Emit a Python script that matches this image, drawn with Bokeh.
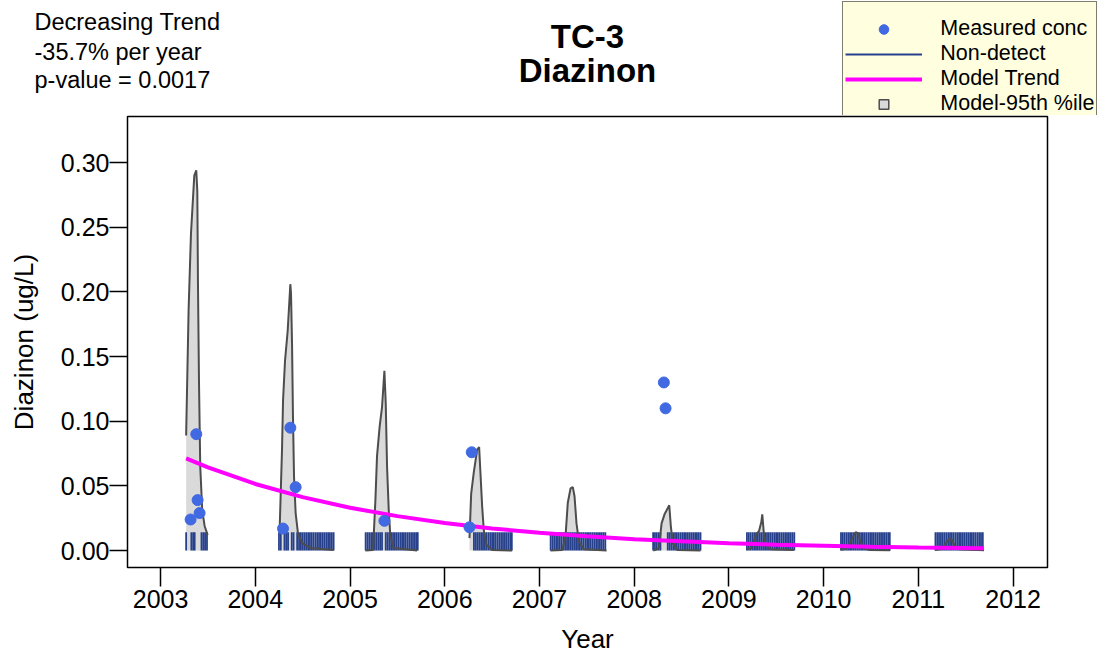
import numpy as np
from bokeh.plotting import figure
from bokeh.layouts import column
from bokeh.models import Range1d, FixedTicker, Label, Legend, LegendItem, ColumnDataSource
from bokeh.embed import file_html
from bokeh.resources import INLINE

FONT = "Liberation Sans"

# ---------------- data ----------------
x_ticks = [2003, 2004, 2005, 2006, 2007, 2008, 2009, 2010, 2011, 2012]
y_ticks = [0.0, 0.05, 0.10, 0.15, 0.20, 0.25, 0.30]
y_tick_labels = ["0.00", "0.05", "0.10", "0.15", "0.20", "0.25", "0.30"]

# measured (detected) concentrations
detect_t = [2003.317, 2003.377, 2003.391, 2003.412, 2004.293, 2004.370, 2004.426,
            2005.363, 2006.261, 2006.285, 2008.313, 2008.331]
detect_c = [0.024, 0.090, 0.039, 0.029, 0.017, 0.095, 0.049,
            0.023, 0.018, 0.076, 0.130, 0.110]

# non-detect sample dates
nd_2003 = [2003.270, 2003.325, 2003.344, 2003.360, 2003.432, 2003.451, 2003.470, 2003.490]
nd_2004 = [2004.250, 2004.269, 2004.308, 2004.327, 2004.346, 2004.385, 2004.404, 2004.442,
           2004.462, 2004.481, 2004.500, 2004.519, 2004.538, 2004.558, 2004.577, 2004.596,
           2004.615, 2004.635, 2004.654, 2004.673, 2004.692, 2004.712, 2004.731, 2004.750,
           2004.769, 2004.788, 2004.808, 2004.827]
nd_2005 = [2005.165, 2005.184, 2005.203, 2005.223, 2005.242, 2005.261, 2005.280, 2005.300,
           2005.319, 2005.338, 2005.377, 2005.396, 2005.415, 2005.434, 2005.454, 2005.473,
           2005.492, 2005.511, 2005.531, 2005.550, 2005.569, 2005.588, 2005.608, 2005.627,
           2005.646, 2005.665, 2005.685, 2005.704, 2005.715]
nd_2006 = [2006.308, 2006.327, 2006.346, 2006.365, 2006.385, 2006.404, 2006.423, 2006.442,
           2006.462, 2006.481, 2006.500, 2006.519, 2006.538, 2006.558, 2006.577, 2006.596,
           2006.615, 2006.635, 2006.654, 2006.673, 2006.692, 2006.708]
nd_2007 = [2007.118, 2007.137, 2007.156, 2007.176, 2007.195, 2007.214, 2007.233, 2007.253,
           2007.272, 2007.291, 2007.310, 2007.330, 2007.349, 2007.368, 2007.387, 2007.407,
           2007.426, 2007.445, 2007.464, 2007.484, 2007.503, 2007.522, 2007.541, 2007.561,
           2007.580, 2007.599, 2007.618, 2007.638, 2007.657, 2007.676, 2007.695]
nd_2008 = [2008.200, 2008.219, 2008.238, 2008.258, 2008.277, 2008.354, 2008.373, 2008.392,
           2008.412, 2008.431, 2008.450, 2008.469, 2008.489, 2008.508, 2008.527, 2008.546,
           2008.566, 2008.585, 2008.604, 2008.623, 2008.643, 2008.662, 2008.681, 2008.700]
nd_2009 = [2009.190, 2009.209, 2009.228, 2009.248, 2009.267, 2009.286, 2009.305, 2009.325,
           2009.344, 2009.363, 2009.382, 2009.402, 2009.421, 2009.440, 2009.459, 2009.479,
           2009.498, 2009.517, 2009.536, 2009.556, 2009.575, 2009.594, 2009.613, 2009.633,
           2009.652, 2009.671, 2009.690]
nd_2010 = [2010.183, 2010.202, 2010.221, 2010.241, 2010.260, 2010.279, 2010.298, 2010.318,
           2010.337, 2010.356, 2010.375, 2010.395, 2010.414, 2010.433, 2010.452, 2010.472,
           2010.491, 2010.510, 2010.529, 2010.549, 2010.568, 2010.587, 2010.606, 2010.626,
           2010.645, 2010.664, 2010.683, 2010.698]
nd_2011 = [2011.180, 2011.199, 2011.218, 2011.238, 2011.257, 2011.276, 2011.295, 2011.315,
           2011.334, 2011.353, 2011.372, 2011.392, 2011.411, 2011.430, 2011.449, 2011.469,
           2011.488, 2011.507, 2011.526, 2011.546, 2011.565, 2011.584, 2011.603, 2011.623,
           2011.642, 2011.661, 2011.680]
nd_limit = 0.0142  # reporting limit drawn for non-detects

# model trend
trend_t = [2003.27, 2003.5, 2004.0, 2004.5, 2005.0, 2005.5, 2006.0, 2006.5, 2007.0,
           2007.5, 2008.0, 2008.5, 2009.0, 2009.5, 2010.0, 2010.5, 2011.0, 2011.69]
trend_c = [0.0713, 0.0643, 0.0515, 0.0413, 0.0331, 0.0266, 0.0213, 0.0171, 0.0137,
           0.0110, 0.0088, 0.0071, 0.0057, 0.0045, 0.0037, 0.0029, 0.0023, 0.0017]

# model 95th percentile, one curve per sampling season
p95_2003_t = [2003.270, 2003.296, 2003.321, 2003.356, 2003.377, 2003.388, 2003.395, 2003.406,
              2003.419, 2003.440, 2003.465, 2003.497]
p95_2003_c = [0.089, 0.186, 0.245, 0.290, 0.294, 0.278, 0.206, 0.129, 0.065, 0.031, 0.019, 0.012]
p95_2004_t = [2004.257, 2004.282, 2004.293, 2004.314, 2004.342, 2004.370, 2004.377, 2004.388,
              2004.398, 2004.409, 2004.426, 2004.451, 2004.494, 2004.581, 2004.827]
p95_2004_c = [0.016, 0.078, 0.116, 0.147, 0.170, 0.206, 0.199, 0.160, 0.103, 0.057, 0.029,
              0.013, 0.006, 0.002, 0.0005]
p95_2005_t = [2005.162, 2005.243, 2005.268, 2005.285, 2005.313, 2005.338, 2005.363, 2005.377,
              2005.391, 2005.409, 2005.426, 2005.461, 2005.708]
p95_2005_c = [0.0, 0.0005, 0.039, 0.073, 0.096, 0.111, 0.139, 0.114, 0.065, 0.031, 0.011,
              0.002, 0.0]
p95_2006_t = [2006.261, 2006.279, 2006.306, 2006.342, 2006.363, 2006.377, 2006.395, 2006.412,
              2006.440, 2006.500, 2006.712]
p95_2006_c = [0.0096, 0.044, 0.060, 0.078, 0.080, 0.060, 0.034, 0.016, 0.0044, 0.0005, 0.0]
p95_2007_t = [2007.116, 2007.240, 2007.275, 2007.299, 2007.328, 2007.352, 2007.370, 2007.391,
              2007.416, 2007.469, 2007.708]
p95_2007_c = [0.0, 0.0005, 0.011, 0.037, 0.048, 0.049, 0.042, 0.021, 0.007, 0.001, 0.0]
p95_2008_t = [2008.201, 2008.260, 2008.289, 2008.320, 2008.370, 2008.387, 2008.408, 2008.455,
              2008.700]
p95_2008_c = [0.0, 0.0018, 0.021, 0.028, 0.035, 0.0185, 0.0057, 0.0005, 0.0]
p95_2009_t = [2009.187, 2009.230, 2009.264, 2009.282, 2009.317, 2009.342, 2009.352, 2009.370,
              2009.387, 2009.440, 2009.686]
p95_2009_c = [0.001, 0.0018, 0.007, 0.012, 0.015, 0.022, 0.028, 0.012, 0.0044, 0.001, 0.0005]
p95_2010_t = [2010.180, 2010.250, 2010.303, 2010.338, 2010.362, 2010.391, 2010.419, 2010.479,
              2010.701]
p95_2010_c = [0.0005, 0.0018, 0.0096, 0.0142, 0.0134, 0.007, 0.0018, 0.0005, 0.0003]
p95_2011_t = [2011.176, 2011.254, 2011.289, 2011.324, 2011.352, 2011.384, 2011.430, 2011.693]
p95_2011_c = [0.0005, 0.0013, 0.0057, 0.009, 0.0083, 0.0039, 0.001, 0.0003]

title_lines = ["TC-3", "Diazinon"]
trend_lines = ["Decreasing Trend", "-35.7% per year", "p-value = 0.0017"]
legend_labels = ["Measured conc", "Non-detect", "Model Trend", "Model-95th %ile"]

# ---------------- styles ----------------
DOT = dict(size=11, fill_color="#4169E1", line_color="#4169E1")
ND = dict(line_color="#27408B", line_width=1.8)
TREND = dict(line_color="#FF00FF", line_width=4)
BAND_FILL = "#dadada"
BAND_LINE = "#4d4d4d"

# ---------------- assemble ----------------
p95_t = [p95_2003_t, p95_2004_t, p95_2005_t, p95_2006_t, p95_2007_t,
         p95_2008_t, p95_2009_t, p95_2010_t, p95_2011_t]
p95_c = [p95_2003_c, p95_2004_c, p95_2005_c, p95_2006_c, p95_2007_c,
         p95_2008_c, p95_2009_c, p95_2010_c, p95_2011_c]
nd_dates = nd_2003 + nd_2004 + nd_2005 + nd_2006 + nd_2007 + nd_2008 + nd_2009 + nd_2010 + nd_2011

fill_xs = [[t[0]] + t + [t[-1]] for t in p95_t]
fill_ys = [[0.0] + c + [0.0] for c in p95_c]

# ---- header strip: titles, trend text and legend ----
TOP_H = 115
top = figure(width=1097, height=TOP_H, x_range=Range1d(0, 1), y_range=Range1d(0, 1),
             x_axis_type=None, y_axis_type=None, output_backend="svg", toolbar_location=None,
             min_border=0, outline_line_color=None, background_fill_color="white",
             border_fill_color="white")
top.grid.visible = False

for txt, yy in zip(title_lines, (79.5, 45.3)):
    top.add_layout(Label(x=587, y=yy, x_units="screen", y_units="screen", text=txt,
                         text_font=FONT, text_font_size="33px", text_font_style="bold",
                         text_color="black", text_align="center", text_baseline="alphabetic"))
for txt, yy in zip(trend_lines, (93.3, 63.3, 35.5)):
    top.add_layout(Label(x=34, y=yy, x_units="screen", y_units="screen", text=txt,
                         text_font=FONT, text_font_size="23.5px", text_color="black",
                         text_align="left", text_baseline="alphabetic"))

nan = [np.nan]
lg_dot = top.scatter(nan, nan, **DOT)
lg_nd = top.line(nan, nan, **ND)
lg_trend = top.line(nan, nan, **TREND)
lg_band = top.scatter(nan, nan, marker="square", size=13, fill_color=BAND_FILL,
                      line_color=BAND_LINE, line_width=1.5)

legend = Legend(items=[LegendItem(label=l, renderers=[r]) for l, r in
                       zip(legend_labels, (lg_dot, lg_nd, lg_trend, lg_band))],
                location=(842.3, -4), orientation="vertical",
                glyph_width=77, glyph_height=24, label_height=24, label_width=10,
                label_standoff=18, padding=2, spacing=0, margin=0,
                label_text_font=FONT, label_text_font_size="21.5px", label_text_color="black",
                title=" ", title_text_font_size="11.5px", title_standoff=0,
                background_fill_color="#FFFFE0", background_fill_alpha=1.0,
                border_line_color="black", border_line_width=1.5)
top.add_layout(legend)

# ---- main plot ----
p = figure(width=1097, height=656 - TOP_H,
           x_range=Range1d(2002.651, 2012.363), y_range=Range1d(-0.01312, 0.3357),
           output_backend="svg", toolbar_location=None,
           min_border_left=127, min_border_right=50, min_border_top=1, min_border_bottom=88,
           background_fill_color="white", border_fill_color="white",
           outline_line_color="black", outline_line_width=1.5)
p.grid.visible = False

for fig in (top, p):
    if "frame_align" in fig.properties():
        fig.frame_align = False

p.patches(xs=fill_xs, ys=fill_ys, fill_color=BAND_FILL, line_color=None)
nd_src = ColumnDataSource(dict(x=nd_dates, y0=[0.0] * len(nd_dates), y1=[nd_limit] * len(nd_dates)))
p.segment(x0="x", y0="y0", x1="x", y1="y1", source=nd_src, **ND)
p.multi_line(xs=p95_t, ys=p95_c, line_color=BAND_LINE, line_width=2)
p.line(trend_t, trend_c, **TREND)
p.scatter(detect_t, detect_c, **DOT)

for ax in (p.xaxis[0], p.yaxis[0]):
    ax.axis_line_color = None
    ax.major_tick_in = 0
    ax.minor_tick_in = 0
    ax.minor_tick_out = 0
    ax.major_tick_line_width = 1.5
    ax.major_tick_line_color = "black"
    ax.major_label_text_font = FONT
    ax.major_label_text_font_size = "25px"
    ax.major_label_text_color = "black"
    ax.axis_label_text_font = FONT
    ax.axis_label_text_font_size = "26px"
    ax.axis_label_text_font_style = "normal"
    ax.axis_label_text_color = "black"

p.xaxis.ticker = FixedTicker(ticks=x_ticks)
p.xaxis.major_tick_out = 19
p.xaxis.major_label_standoff = 3
p.xaxis.axis_label = "Year"
p.xaxis.axis_label_standoff = 13

p.yaxis.ticker = FixedTicker(ticks=y_ticks)
p.yaxis.major_label_overrides = dict(zip(y_ticks, y_tick_labels))
p.yaxis.major_tick_out = 18
p.yaxis.major_label_standoff = 0
p.yaxis.axis_label = "Diazinon (ug/L)"
p.yaxis.axis_label_standoff = 19

layout = column(top, p, spacing=0)
open("out.html", "w").write(file_html(layout, INLINE))
